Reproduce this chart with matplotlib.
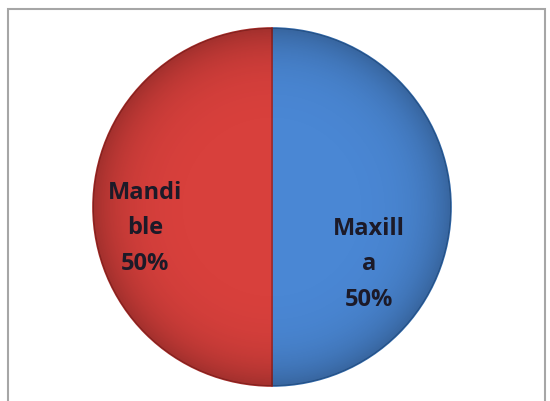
import numpy as np
import matplotlib.pyplot as plt
from matplotlib.patches import Rectangle, Circle

# data
categories = ['Maxilla', 'Mandible']
label_text = ['Maxill\na\n50%', 'Mandi\nble\n50%']
shares = [50, 50]
colors = ['#4A87D4', '#D8403C']
edge_colors = ['#2F66A8', '#A52A27']

# label centres in pie units
label_pos = [(0.54, -0.32), (-0.71, -0.12)]

fig = plt.figure(figsize=(5.5, 4.01), dpi=100)
fig.patch.set_facecolor('white')

# outer gray frame
fig.add_artist(Rectangle((8 / 550, -0.05), (545 - 8) / 550, 1.05 - 9 / 401,
                         transform=fig.transFigure, fill=False,
                         edgecolor='#A6A6A6', linewidth=1.5))

cx, cy, r = 272, 207, 179
ax = fig.add_axes([(cx - r) / 550, (401 - cy - r) / 401, 2 * r / 550, 2 * r / 401])

wedges, _ = ax.pie(shares, colors=colors, startangle=90, counterclock=False,
                   radius=1.0, wedgeprops=dict(linewidth=1.2))
for w, ec in zip(wedges, edge_colors):
    w.set_edgecolor(ec)

# soft shading toward the rim
n = 400
yy, xx = np.mgrid[-1:1:n * 1j, -1:1:n * 1j]
rr = np.sqrt(xx ** 2 + yy ** 2)
shade = np.zeros((n, n, 4))
shade[..., 3] = np.clip(0.25 * rr ** 6, 0, 0.25)
im = ax.imshow(shade, extent=[-1, 1, -1, 1], origin='lower', zorder=3)
im.set_clip_path(Circle((0, 0), 1.0, transform=ax.transData))

for txt, (x, y) in zip(label_text, label_pos):
    ax.text(x, y, txt, ha='center', va='center', fontsize=17,
            fontweight='bold', family='Open Sans', color='#1c1a28',
            linespacing=1.65, zorder=5)

ax.set_xlim(-1, 1)
ax.set_ylim(-1, 1)
ax.set_aspect('auto')
ax.axis('off')

fig.savefig('out.png', dpi=100)
